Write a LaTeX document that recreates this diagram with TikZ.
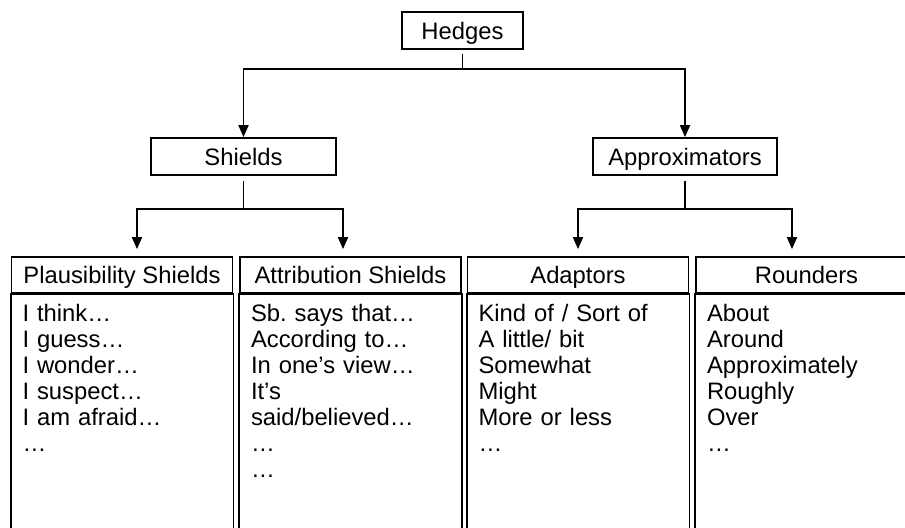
\documentclass[tikz,border=0pt]{standalone}
\usepackage{fontspec}
\setmainfont{Liberation Sans}
\usetikzlibrary{arrows.meta, positioning}

\begin{document}
\begin{tikzpicture}[x=0.5pt, y=-0.5pt, line width=0.9pt,
  every node/.style={font=\fontsize{11.9pt}{13pt}\selectfont\frenchspacing, inner sep=0pt},
  box/.style={draw, minimum height=18.5pt, text height=8.5pt, text depth=0pt},
  colhead/.style={draw, minimum width=110.5pt, minimum height=18pt, text height=8.5pt, text depth=0pt},
  items/.style={anchor=north west, align=left, text width=105pt},
  branch/.style={-{Triangle[width=5pt,length=6pt]}}]
\path[use as bounding box, clip] (0,0) rectangle (905,527);

\node[box, minimum width=60.5pt] (hedges) at (462.5,30.5) {Hedges};
\node[box, minimum width=92.5pt] (shields) at (243.5,156.5) {Shields};
\node[box, minimum width=92pt] (approx) at (685,156.5) {Approximators};

\node[colhead] (plaus) at (122,275) {Plausibility Shields};
\node[colhead] (attrib) at (350.5,275) {Attribution Shields};
\node[colhead] (adapt) at (578,275) {Adaptors};
\node[colhead] (round) at (806.5,275) {Rounders};

\foreach \c in {plaus,attrib,adapt,round}{
  \draw (\c.south west) rectangle ([yshift=-130pt]\c.south east);
  \draw[line width=1.2pt] (\c.south west) -- (\c.south east);
}

\node[items] (plauslist) at ([xshift=5.5pt,yshift=-4.5pt]plaus.south west)
  {I think…\\I guess…\\I wonder…\\I suspect…\\I am afraid…\\…};
\node[items] (attriblist) at ([xshift=5.5pt,yshift=-4.5pt]attrib.south west)
  {Sb. says that…\\According to…\\In one’s view…\\It’s\\said/believed…\\…\\…};
\node[items] (adaptlist) at ([xshift=5.5pt,yshift=-4.5pt]adapt.south west)
  {Kind of / Sort of\\A little/ bit\\Somewhat\\Might\\More or less\\…};
\node[items] (roundlist) at ([xshift=5.5pt,yshift=-4.5pt]round.south west)
  {About\\Around\\Approximately\\Roughly\\Over\\…};

\draw (hedges.south) ++(0,4) -- ++(0,15) coordinate (hsplit);
\draw[branch] (hsplit) -| (shields.north);
\draw[branch] (hsplit) -| (approx.north);

\draw (shields.south) ++(0,5) -- ++(0,28) coordinate (ssplit);
\draw[branch, shorten >=3.5pt] (ssplit) -| ([xshift=7.5pt]plaus.north);
\draw[branch, shorten >=3.5pt] (ssplit) -| ([xshift=-3.75pt]attrib.north);

\draw (approx.south) ++(0,5) -- ++(0,28) coordinate (asplit);
\draw[branch, shorten >=3.5pt] (asplit) -| (adapt.north);
\draw[branch, shorten >=3.5pt] (asplit) -| ([xshift=-7.25pt]round.north);
\end{tikzpicture}
\end{document}
